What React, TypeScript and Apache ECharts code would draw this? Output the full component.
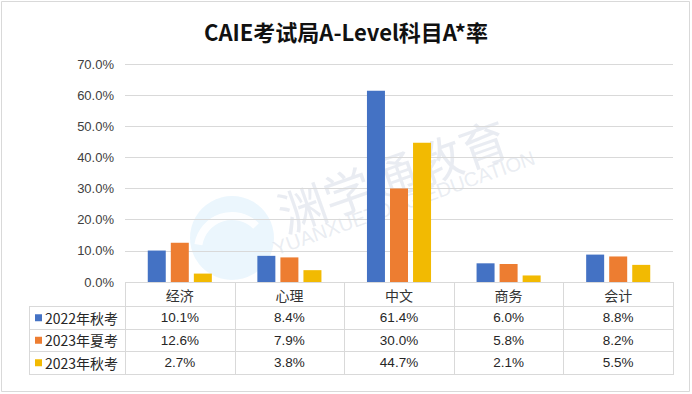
import React, { useEffect, useRef } from "react";
import * as echarts from "echarts";

const categories = ["经济", "心理", "中文", "商务", "会计"];
const seriesNames = ["2022年秋考", "2023年夏考", "2023年秋考"];
const autumn2022 = [10.1, 8.4, 61.4, 6.0, 8.8];
const summer2023 = [12.6, 7.9, 30.0, 5.8, 8.2];
const autumn2023 = [2.7, 3.8, 44.7, 2.1, 5.5];
const colors = ["#4472C4", "#ED7D31", "#F2BA02"];

const W = 692;
const H = 394;
const GRID_L = 125;
const GRID_R = 19;
const GRID_T = 64;
const GRID_B = 112;

export default function App() {
  const ref = useRef<HTMLDivElement>(null);
  useEffect(() => {
    if (!ref.current) return;
    const chart = echarts.init(ref.current, null, { renderer: "svg" });
    const data = [autumn2022, summer2023, autumn2023];
    const plotW = W - GRID_L - GRID_R;
    const cellW = plotW / categories.length;
    const axisY = H - GRID_B;
    const rowH = [24, 22.5, 22.5, 22.5];
    const rowsY: number[] = [axisY];
    rowH.forEach((h, i) => rowsY.push(rowsY[i] + h));
    const tableLeft = 29;
    const lineStyle = { stroke: "#d9d9d9", lineWidth: 1 };
    const numFont = "Liberation Sans, Arial, sans-serif";
    const cjkFont = "Noto Sans CJK SC, sans-serif";
    const g: any[] = [];
    // outer border
    g.push({ type: "rect", shape: { x: 1.5, y: 1.5, width: W - 4, height: H - 4 }, style: { fill: "none", stroke: "#d9d9d9", lineWidth: 1 }, z: 1 });
    // watermark
    g.push({ type: "circle", shape: { cx: 232, cy: 238, r: 42 }, style: { fill: "rgba(190,225,250,0.3)" }, z: 0, silent: true });
    g.push({ type: "arc", shape: { cx: 232, cy: 250, r: 34, startAngle: Math.PI * 1.05, endAngle: Math.PI * 1.75 }, style: { stroke: "rgba(255,255,255,0.9)", lineWidth: 8, fill: "none" }, z: 0, silent: true });
    g.push({ type: "text", x: 392, y: 174, rotation: 0.34, style: { text: "渊学通教育", font: "48px " + cjkFont, fill: "rgba(200,208,222,0.4)", align: "center", verticalAlign: "middle" }, z: 0, silent: true });
    g.push({ type: "text", x: 404, y: 203, rotation: 0.34, style: { text: "YUANXUETONG EDUCATION", font: "20px " + numFont, fill: "rgba(200,208,222,0.4)", align: "center", verticalAlign: "middle" }, z: 0, silent: true });
    // table horizontal lines
    g.push({ type: "line", shape: { x1: GRID_L, y1: rowsY[0] + 0.5, x2: GRID_L + plotW, y2: rowsY[0] + 0.5 }, style: lineStyle, z: 3 });
    for (let i = 1; i < rowsY.length; i++) {
      g.push({ type: "line", shape: { x1: tableLeft, y1: Math.round(rowsY[i]) + 0.5, x2: GRID_L + plotW, y2: Math.round(rowsY[i]) + 0.5 }, style: lineStyle, z: 3 });
    }
    // vertical lines
    g.push({ type: "line", shape: { x1: tableLeft + 0.5, y1: Math.round(rowsY[1]), x2: tableLeft + 0.5, y2: Math.round(rowsY[4]) + 1 }, style: lineStyle, z: 3 });
    for (let c = 0; c <= categories.length; c++) {
      const x = Math.round(GRID_L + c * cellW) + 0.5;
      g.push({ type: "line", shape: { x1: x, y1: axisY, x2: x, y2: Math.round(rowsY[4]) + 1 }, style: lineStyle, z: 3 });
    }
    // header
    categories.forEach((cat, c) => {
      g.push({ type: "text", x: GRID_L + (c + 0.5) * cellW, y: (rowsY[0] + rowsY[1]) / 2 + 1, style: { text: cat, font: "14px " + cjkFont, fill: "#333", align: "center", verticalAlign: "middle" }, z: 3 });
    });
    // rows
    seriesNames.forEach((name, r) => {
      const cy = (rowsY[r + 1] + rowsY[r + 2]) / 2 + 0.5;
      g.push({ type: "rect", shape: { x: 35, y: cy - 3.5, width: 7, height: 7 }, style: { fill: colors[r] }, z: 3 });
      g.push({ type: "text", x: 45, y: cy, style: { text: name, font: "14px " + cjkFont, fill: "#262626", align: "left", verticalAlign: "middle" }, z: 3 });
      data[r].forEach((v, c) => {
        g.push({ type: "text", x: GRID_L + (c + 0.5) * cellW, y: cy, style: { text: v.toFixed(1) + "%", font: "13.5px " + numFont, fill: "#262626", align: "center", verticalAlign: "middle" }, z: 3 });
      });
    });

    chart.setOption({
      animation: false,
      backgroundColor: "#fff",
      title: {
        text: "CAIE考试局A-Level科目A*率",
        left: "center",
        top: 15,
        textStyle: { fontFamily: cjkFont, fontSize: 22, fontWeight: "bold", color: "#111" },
      },
      grid: { left: GRID_L, right: GRID_R, top: GRID_T, bottom: GRID_B, containLabel: false },
      xAxis: {
        type: "category",
        data: categories,
        axisLine: { show: false },
        axisTick: { show: false },
        axisLabel: { show: false },
      },
      yAxis: {
        type: "value",
        min: 0,
        max: 70,
        interval: 10,
        axisLine: { show: false },
        axisTick: { show: false },
        axisLabel: { formatter: (v: number) => v.toFixed(1) + "%", fontFamily: numFont, fontSize: 13, color: "#404040", margin: 11 },
        splitLine: { lineStyle: { color: "#d9d9d9", width: 1 } },
      },
      series: data.map((d, i) => ({
        name: seriesNames[i],
        type: "bar",
        data: d,
        barWidth: 18,
        barGap: "28%",
        itemStyle: { color: colors[i] },
        z: 2,
      })),
      graphic: g,
    });
    return () => chart.dispose();
  }, []);
  return <div ref={ref} style={{ width: W, height: H, position: "absolute", left: 0, top: 0 }} />;
}
